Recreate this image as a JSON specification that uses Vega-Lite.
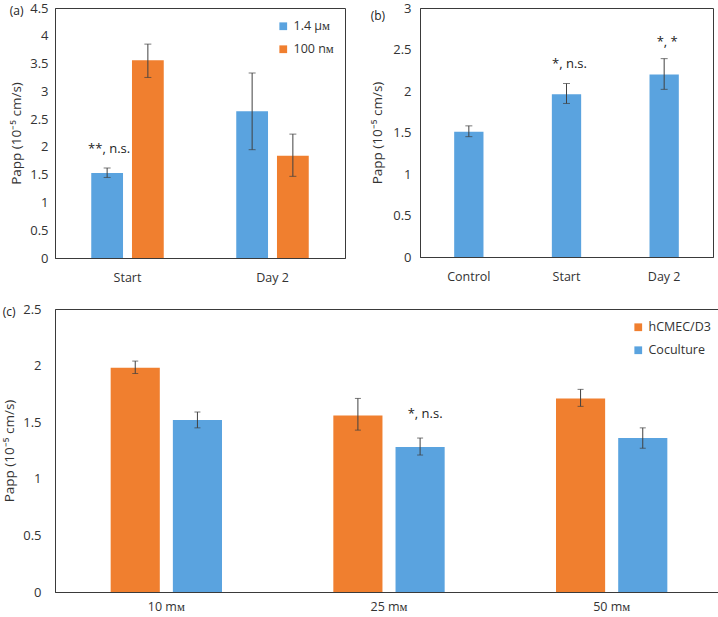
{
  "$schema": "https://vega.github.io/schema/vega-lite/v6.json",
  "padding": {"left": 2, "top": 1, "right": 2, "bottom": 0},
  "config": {
    "font": "Open Sans",
    "view": {"stroke": "#3a3a3a", "strokeWidth": 1},
    "axis": {"labelFontSize": 12.5, "labelColor": "#333333", "titleFontSize": 13.5, "titleFontWeight": "normal", "titleColor": "#333333", "ticks": false, "grid": false, "domainColor": "#3a3a3a"},
    "axisY": {"format": "~g", "labelFontSize": 13, "labelOverlap": false},
    "title": {"fontSize": 12, "fontWeight": "normal", "anchor": "start", "frame": "bounds", "color": "#222222", "offset": -16},
    "legend": {"labelFontSize": 12.5, "labelColor": "#333333", "symbolType": "square", "symbolSize": 60, "symbolStrokeWidth": 0, "rowPadding": 10, "title": null}
  },
  "resolve": {"scale": {"color": "independent", "x": "independent", "xOffset": "independent", "y": "independent"}, "legend": {"color": "independent"}},
  "datasets": {
    "a": [
      {"cat": "Start", "series": "1.4 μᴍ", "value": 1.53, "lo": 1.45, "hi": 1.62},
      {"cat": "Start", "series": "100 nᴍ", "value": 3.56, "lo": 3.25, "hi": 3.85},
      {"cat": "Day 2", "series": "1.4 μᴍ", "value": 2.64, "lo": 1.95, "hi": 3.33},
      {"cat": "Day 2", "series": "100 nᴍ", "value": 1.84, "lo": 1.47, "hi": 2.23}
    ],
    "b": [
      {"cat": "Control", "value": 1.51, "lo": 1.45, "hi": 1.58},
      {"cat": "Start", "value": 1.96, "lo": 1.85, "hi": 2.09},
      {"cat": "Day 2", "value": 2.2, "lo": 2.02, "hi": 2.39}
    ],
    "c": [
      {"cat": "10 mᴍ", "series": "hCMEC/D3", "value": 1.98, "lo": 1.93, "hi": 2.04},
      {"cat": "10 mᴍ", "series": "Coculture", "value": 1.52, "lo": 1.45, "hi": 1.59},
      {"cat": "25 mᴍ", "series": "hCMEC/D3", "value": 1.56, "lo": 1.43, "hi": 1.71},
      {"cat": "25 mᴍ", "series": "Coculture", "value": 1.28, "lo": 1.21, "hi": 1.36},
      {"cat": "50 mᴍ", "series": "hCMEC/D3", "value": 1.71, "lo": 1.64, "hi": 1.79},
      {"cat": "50 mᴍ", "series": "Coculture", "value": 1.36, "lo": 1.27, "hi": 1.45}
    ]
  },
  "spacing": 18,
  "vconcat": [
    {
      "spacing": 24,
      "resolve": {"scale": {"color": "independent", "x": "independent", "xOffset": "independent", "y": "independent"}, "legend": {"color": "independent"}},
      "hconcat": [
        {
          "title": {"text": "(a)"},
          "width": 290,
          "height": 250,
          "data": {"name": "a"},
          "encoding": {
            "x": {"field": "cat", "type": "nominal", "sort": ["Start", "Day 2"], "scale": {"paddingInner": 0.5, "paddingOuter": 0.25}, "axis": {"title": null, "labelAngle": 0, "labelPadding": 13}},
            "xOffset": {"field": "series", "type": "nominal", "sort": ["1.4 μᴍ", "100 nᴍ"], "scale": {"paddingInner": 0.22, "paddingOuter": 0}}
          },
          "layer": [
            {
              "mark": {"type": "bar"},
              "encoding": {
                "y": {"field": "value", "type": "quantitative", "scale": {"domain": [0, 4.5], "nice": false}, "axis": {"title": "Papp (10⁻⁵ cm/s)", "values": [0, 0.5, 1, 1.5, 2, 2.5, 3, 3.5, 4, 4.5], "labelPadding": 7, "titlePadding": 6}},
                "color": {"field": "series", "type": "nominal", "sort": ["1.4 μᴍ", "100 nᴍ"], "scale": {"domain": ["1.4 μᴍ", "100 nᴍ"], "range": ["#5AA3DF", "#F07F2F"]}, "legend": {"orient": "none", "legendX": 222, "legendY": 12}}
              }
            },
            {"mark": {"type": "rule", "color": "#404040", "strokeWidth": 1}, "encoding": {"y": {"field": "lo", "type": "quantitative", "axis": {"title": "Papp (10⁻⁵ cm/s)", "values": [0, 0.5, 1, 1.5, 2, 2.5, 3, 3.5, 4, 4.5], "labelPadding": 7, "titlePadding": 6}}, "y2": {"field": "hi"}}},
            {"mark": {"type": "tick", "color": "#404040", "size": 7, "thickness": 1}, "encoding": {"y": {"field": "lo", "type": "quantitative", "axis": {"title": "Papp (10⁻⁵ cm/s)", "values": [0, 0.5, 1, 1.5, 2, 2.5, 3, 3.5, 4, 4.5], "labelPadding": 7, "titlePadding": 6}}}},
            {"mark": {"type": "tick", "color": "#404040", "size": 7, "thickness": 1}, "encoding": {"y": {"field": "hi", "type": "quantitative", "axis": {"title": "Papp (10⁻⁵ cm/s)", "values": [0, 0.5, 1, 1.5, 2, 2.5, 3, 3.5, 4, 4.5], "labelPadding": 7, "titlePadding": 6}}}},
            {
              "data": {"values": [{"cat": "Start", "series": "1.4 μᴍ", "ty": 1.97, "label": "**, n.s."}]},
              "mark": {"type": "text", "fontSize": 13, "color": "#222222", "baseline": "middle", "dx": 2},
              "encoding": {"y": {"field": "ty", "type": "quantitative", "axis": {"title": "Papp (10⁻⁵ cm/s)", "values": [0, 0.5, 1, 1.5, 2, 2.5, 3, 3.5, 4, 4.5], "labelPadding": 7, "titlePadding": 6}}, "text": {"field": "label"}}
            }
          ]
        },
        {
          "title": {"text": "(b)", "offset": -21},
          "width": 293,
          "height": 249,
          "data": {"name": "b"},
          "encoding": {
            "x": {"field": "cat", "type": "nominal", "sort": ["Control", "Start", "Day 2"], "scale": {"paddingInner": 0.7, "paddingOuter": 0.35}, "axis": {"title": null, "labelAngle": 0, "labelPadding": 13}}
          },
          "layer": [
            {
              "mark": {"type": "bar", "color": "#5AA3DF"},
              "encoding": {
                "y": {"field": "value", "type": "quantitative", "scale": {"domain": [0, 3], "nice": false}, "axis": {"title": "Papp (10⁻⁵ cm/s)", "values": [0, 0.5, 1, 1.5, 2, 2.5, 3], "labelPadding": 9, "titlePadding": 8}}
              }
            },
            {"mark": {"type": "rule", "color": "#404040", "strokeWidth": 1}, "encoding": {"y": {"field": "lo", "type": "quantitative"}, "y2": {"field": "hi"}}},
            {"mark": {"type": "tick", "color": "#404040", "size": 7, "thickness": 1}, "encoding": {"y": {"field": "lo", "type": "quantitative"}}},
            {"mark": {"type": "tick", "color": "#404040", "size": 7, "thickness": 1}, "encoding": {"y": {"field": "hi", "type": "quantitative"}}},
            {
              "data": {"values": [{"cat": "Start", "ty": 2.33, "label": "*, n.s."}, {"cat": "Day 2", "ty": 2.59, "label": "*, *"}]},
              "mark": {"type": "text", "fontSize": 13, "color": "#222222", "baseline": "middle", "dx": 3},
              "encoding": {"y": {"field": "ty", "type": "quantitative"}, "text": {"field": "label"}}
            }
          ]
        }
      ]
    },
    {
      "title": {"text": "(c)"},
      "width": 668,
      "height": 283,
      "data": {"name": "c"},
      "encoding": {
        "x": {"field": "cat", "type": "nominal", "sort": ["10 mᴍ", "25 mᴍ", "50 mᴍ"], "scale": {"paddingInner": 0.5, "paddingOuter": 0.25}, "axis": {"title": null, "labelAngle": 0, "labelPadding": 8}},
        "xOffset": {"field": "series", "type": "nominal", "sort": ["hCMEC/D3", "Coculture"], "scale": {"paddingInner": 0.21, "paddingOuter": 0}}
      },
      "layer": [
        {
          "mark": {"type": "bar"},
          "encoding": {
            "y": {"field": "value", "type": "quantitative", "scale": {"domain": [0, 2.5], "nice": false}, "axis": {"title": "Papp (10⁻⁵ cm/s)", "values": [0, 0.5, 1, 1.5, 2, 2.5], "labelPadding": 14, "titlePadding": 6}},
            "color": {"field": "series", "type": "nominal", "sort": ["hCMEC/D3", "Coculture"], "scale": {"domain": ["hCMEC/D3", "Coculture"], "range": ["#F07F2F", "#5AA3DF"]}, "legend": {"orient": "top-right", "offset": 12}}
          }
        },
        {"mark": {"type": "rule", "color": "#404040", "strokeWidth": 1}, "encoding": {"y": {"field": "lo", "type": "quantitative"}, "y2": {"field": "hi"}}},
        {"mark": {"type": "tick", "color": "#404040", "size": 6, "thickness": 1}, "encoding": {"y": {"field": "lo", "type": "quantitative"}}},
        {"mark": {"type": "tick", "color": "#404040", "size": 6, "thickness": 1}, "encoding": {"y": {"field": "hi", "type": "quantitative"}}},
        {
          "data": {"values": [{"cat": "25 mᴍ", "series": "Coculture", "ty": 1.57, "label": "*, n.s."}]},
          "mark": {"type": "text", "fontSize": 13, "color": "#222222", "baseline": "middle", "dx": 5},
          "encoding": {"y": {"field": "ty", "type": "quantitative"}, "text": {"field": "label"}}
        }
      ]
    }
  ]
}
